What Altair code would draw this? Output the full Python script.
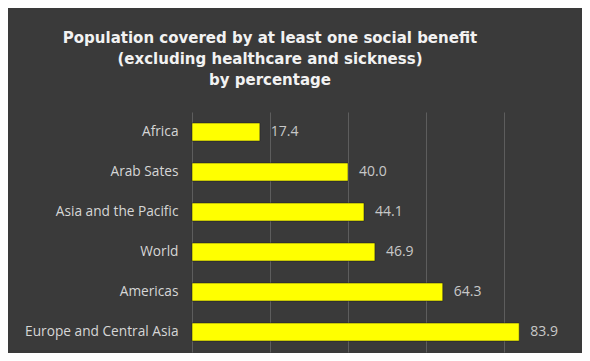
import altair as alt
import pandas as pd

categories = ["Africa", "Arab Sates", "Asia and the Pacific", "World", "Americas", "Europe and Central Asia"]
values = [17.4, 40.0, 44.1, 46.9, 64.3, 83.9]
title_lines = ["Population covered by at least one social benefit",
               "(excluding healthcare and sickness)",
               "by percentage"]
x_ticks = [0, 20, 40, 60, 80, 100]

df = pd.DataFrame({"region": categories, "value": values})

y_enc = alt.Y("region:N", sort=categories, title=None,
              scale=alt.Scale(paddingInner=0.55, paddingOuter=0.275),
              axis=alt.Axis(domain=False, ticks=False, labelPadding=14,
                            labelColor="#d6d6d6", labelFontSize=13.7,
                            labelFont="Open Sans", grid=False))
x_enc = alt.X("value:Q", title=None,
              scale=alt.Scale(domain=[0, 100], nice=False),
              axis=alt.Axis(values=x_ticks, labels=False, ticks=False, domain=False,
                            grid=True, gridColor="#8a8a8a", gridOpacity=0.45, gridWidth=1))

bars = alt.Chart(df).mark_bar(color="#ffff00", stroke="#1a1a1a", strokeWidth=0.5).encode(
    x=x_enc, y=y_enc)

labels = alt.Chart(df).mark_text(align="left", baseline="middle", dx=11,
                                 color="#c8c8c8", fontSize=14, font="Open Sans").encode(
    x=alt.X("value:Q"), y=alt.Y("region:N", sort=categories),
    text=alt.Text("value:Q", format=".1f"))

chart = alt.layer(bars, labels).properties(
    width=390, height=240,
    title=alt.TitleParams(text=title_lines, anchor="middle", dx=-117, offset=24,
                          fontSize=15, font="DejaVu Sans", fontWeight="bold",
                          color="#f2f2f2", lineHeight=21),
    background="#3a3a3a",
    padding={"left": 184, "top": 104, "right": 0, "bottom": 1},
    autosize=alt.AutoSizeParams(type="none"),
).configure_view(stroke=None)

chart.save("out.html", embed_options={"renderer": "svg", "actions": False})
